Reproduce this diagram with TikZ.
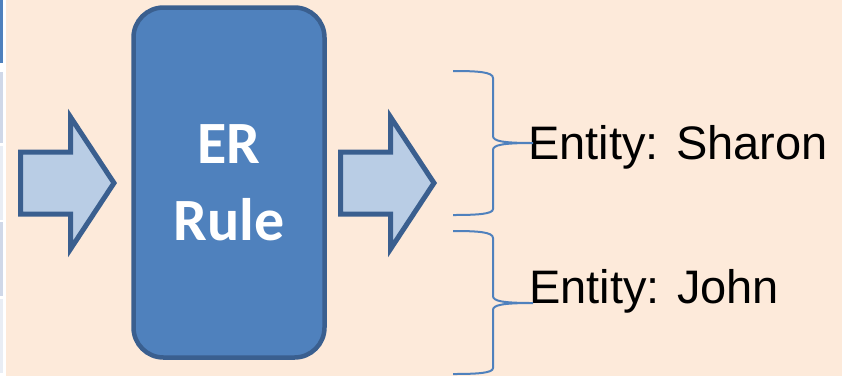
\documentclass[tikz,border=0pt]{standalone}
\usepackage{fontspec}
\newfontfamily\calibri{Carlito}
\newfontfamily\arial{Liberation Sans}
\usepackage{tikz}
\usetikzlibrary{positioning}

\definecolor{peach}{HTML}{FDEADA}
\definecolor{rulefill}{HTML}{4F81BD}
\definecolor{ruleedge}{HTML}{3A5F8F}
\definecolor{arrowfill}{HTML}{B9CDE5}
\definecolor{cellA}{HTML}{D0D8E8}
\definecolor{cellB}{HTML}{E9EDF4}

\tikzset{
  rulebox/.style={draw=ruleedge,fill=rulefill,line width=4.5pt,rounded corners=30pt,
    minimum width=191pt,minimum height=350pt,text=white,align=center,
    font=\calibri\bfseries\fontsize{60}{77}\selectfont},
  blockarrow/.style={draw=ruleedge,fill=arrowfill,line width=5pt},
  bracket/.style={draw=rulefill,line width=2pt},
  entity/.style={inner sep=0pt,anchor=base west,font=\arial\fontsize{47}{56}\selectfont}
}

\begin{document}
\begin{tikzpicture}[x=1pt,y=-1pt]
\useasboundingbox (0,0) rectangle (842,376);
\fill[peach] (0,0) rectangle (842,376);
% table column cut off at the left edge
\fill[white] (0,0) rectangle (6,376);
\fill[rulefill] (0,0) rectangle (3.3,63);
\fill[cellA] (0,72) rectangle (3.3,143);
\fill[cellB] (0,146) rectangle (3.3,220);
\fill[cellA] (0,222) rectangle (3.3,296);
\fill[cellB] (0,299) rectangle (3.3,373);

% rule in the middle
\node[rulebox] (rule) at (229,182.5) {ER\\Rule};

% input and output arrows
\draw[blockarrow] (20.5,152)--(70.5,152)--(70.5,117)--(114,183)--(70.5,249)--(70.5,214)--(20.5,214)--cycle;
\draw[blockarrow,shift={(320,0)}] (20.5,152)--(70.5,152)--(70.5,117)--(114,183)--(70.5,249)--(70.5,214)--(20.5,214)--cycle;

% entities found
\coordinate (tipS) at (533,143);
\coordinate (tipJ) at (533,303);
\node[entity] (sharon) at (528,159) {Entity: Sharon};
\node[entity] (john) at (529,303) {Entity: John};

\draw[bracket] (453,71) .. controls (478,71) and (493,72) .. (493,78) -- (493,136)
  .. controls (493,141) and (502,143) .. (tipS)
  .. controls (502,143) and (493,145) .. (493,150) -- (493,209)
  .. controls (493,214) and (478,215) .. (453,215);
\draw[bracket] (453,231) .. controls (478,231) and (493,232) .. (493,238) -- (493,296)
  .. controls (493,301) and (502,303) .. (tipJ)
  .. controls (502,303) and (493,305) .. (493,310) -- (493,368)
  .. controls (493,373) and (478,374) .. (453,374);
\end{tikzpicture}
\end{document}
